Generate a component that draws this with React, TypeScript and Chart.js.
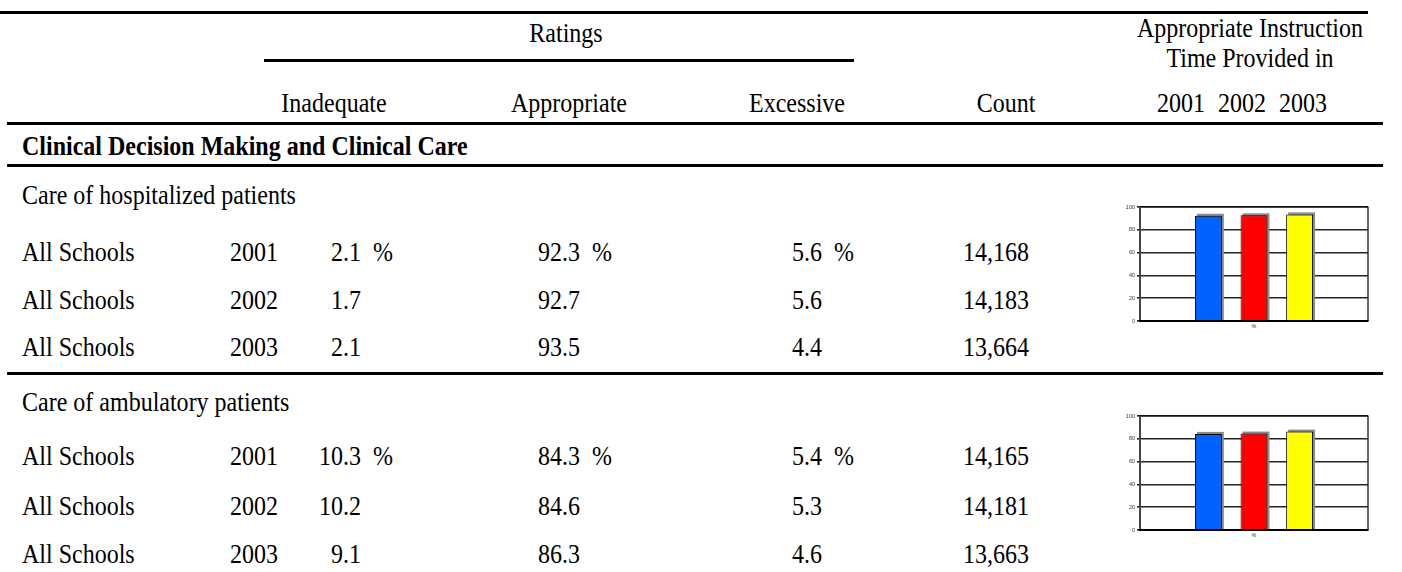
import React, { useEffect, useRef } from "react";
import { Chart, registerables } from "chart.js";

Chart.register(...registerables);

// ---------- data ----------
const years = ["2001", "2002", "2003"];
const schoolLabel = "All Schools";
const sectionTitle = "Clinical Decision Making and Clinical Care";
const groupNames = ["Care of hospitalized patients", "Care of ambulatory patients"];

const hospInadequate = [2.1, 1.7, 2.1];
const hospAppropriate = [92.3, 92.7, 93.5];
const hospExcessive = [5.6, 5.6, 4.4];
const hospCount = [14168, 14183, 13664];

const ambInadequate = [10.3, 10.2, 9.1];
const ambAppropriate = [84.3, 84.6, 86.3];
const ambExcessive = [5.4, 5.3, 4.6];
const ambCount = [14165, 14181, 13663];

const yTicks = [0, 20, 40, 60, 80, 100];
const xCategory = ["%"];
const barColors = ["#0063FF", "#FF0000", "#FFFF00"];

// ---------- layout ----------
const FONT = '"Liberation Serif", "Times New Roman", serif';
const FS = 27;
const SX = 0.889;

const COL = {
  school: 22,
  year: 230,
  inadequateR: 361,
  appropriateR: 580,
  excessiveR: 822,
  countR: 1029,
  pctGap: 12,
};

const HEAD = {
  ratingsX: 566,
  ratingsY: 33,
  inadequateX: 334,
  appropriateX: 569,
  excessiveX: 797,
  countX: 1006,
  rightX: 1250,
  labelsY: 103,
  instr1Y: 28,
  instr2Y: 58,
  yearLeft: [1157, 1218, 1279],
};

const GROUP_Y = [195, 402];
const ROW_Y = [
  [252, 300, 347],
  [456, 506, 554],
];
const CHART_TOP = [200, 409];

type TProps = {
  x: number;
  y: number;
  align?: "left" | "right" | "center";
  bold?: boolean;
  children: React.ReactNode;
};

function T({ x, y, align = "left", bold = false, children }: TProps) {
  const tx = align === "left" ? "0" : align === "right" ? "-100%" : "-50%";
  const origin = align === "left" ? "left center" : align === "right" ? "right center" : "center center";
  return (
    <div
      style={{
        position: "absolute",
        left: x,
        top: y,
        transform: `translate(${tx}, -50%) scaleX(${SX})`,
        transformOrigin: origin,
        whiteSpace: "nowrap",
        fontFamily: FONT,
        fontSize: FS,
        fontWeight: bold ? "bold" : "normal",
        lineHeight: 1,
        color: "#000",
      }}
    >
      {children}
    </div>
  );
}

function Line({ x1, x2, y, h = 3 }: { x1: number; x2: number; y: number; h?: number }) {
  return (
    <div
      style={{
        position: "absolute",
        left: x1,
        top: y - h / 2,
        width: x2 - x1,
        height: h,
        background: "#000",
      }}
    />
  );
}

const framePlugin = {
  id: "framePlugin",
  beforeDatasetsDraw(chart: any) {
    const ctx = chart.ctx;
    ctx.save();
    ctx.fillStyle = "#8a8a8a";
    chart.data.datasets.forEach((_: any, i: number) => {
      const meta = chart.getDatasetMeta(i);
      meta.data.forEach((el: any) => {
        const w = el.width;
        ctx.fillRect(el.x - w / 2 + 2, el.y - 2, w, el.base - el.y + 2);
      });
    });
    ctx.restore();
  },
  afterDatasetsDraw(chart: any) {
    const { ctx, chartArea: a } = chart;
    ctx.save();
    ctx.strokeStyle = "#000";
    ctx.lineWidth = 1.2;
    ctx.beginPath();
    ctx.moveTo(a.left, a.top);
    ctx.lineTo(a.right, a.top);
    ctx.lineTo(a.right, a.bottom);
    ctx.stroke();
    ctx.lineWidth = 2;
    ctx.strokeStyle = "#444";
    ctx.beginPath();
    ctx.moveTo(a.left, a.top);
    ctx.lineTo(a.left, a.bottom + 1);
    ctx.stroke();
    ctx.strokeStyle = "#000";
    ctx.beginPath();
    ctx.moveTo(a.left - 1, a.bottom);
    ctx.lineTo(a.right + 0.5, a.bottom);
    ctx.stroke();
    ctx.restore();
  },
};

function MiniChart({ values, top }: { values: number[]; top: number }) {
  const ref = useRef<HTMLCanvasElement | null>(null);
  useEffect(() => {
    if (!ref.current) return;
    const chart = new Chart(ref.current, {
      type: "bar",
      data: {
        labels: xCategory,
        datasets: years.map((yr, i) => ({
          label: yr,
          data: [values[i]],
          backgroundColor: barColors[i],
          borderColor: "#000",
          borderWidth: 1,
          categoryPercentage: 0.6,
          barPercentage: 0.59,
        })),
      },
      options: {
        animation: false,
        responsive: false,
        maintainAspectRatio: false,
        events: [],
        layout: { padding: { top: 7, right: 4, left: 0, bottom: 0 } },
        plugins: { legend: { display: false }, tooltip: { enabled: false } },
        scales: {
          x: {
            grid: { display: false, drawTicks: false },
            border: { display: false },
            ticks: {
              font: { size: 5.5, family: '"Liberation Sans", Arial, sans-serif' },
              color: "#333",
              padding: 2,
            },
            afterFit: (s: any) => {
              s.height = 15;
            },
          },
          y: {
            min: 0,
            max: 100,
            afterBuildTicks: (s: any) => {
              s.ticks = yTicks.map((v) => ({ value: v }));
            },
            ticks: {
              font: { size: 5.5, family: '"Liberation Sans", Arial, sans-serif' },
              color: "#333",
              padding: 2,
            },
            grid: { color: "#222", lineWidth: 1.6, tickLength: 3 },
            border: { display: false },
            afterFit: (s: any) => {
              s.width = 30;
            },
          },
        },
      },
      plugins: [framePlugin],
    });
    return () => chart.destroy();
  }, [values]);
  return (
    <canvas
      ref={ref}
      width={262}
      height={136}
      style={{ position: "absolute", left: 1110, top, width: 262, height: 136 }}
    />
  );
}

const fmt = (v: number) => v.toFixed(1);
const fmtCount = (v: number) => v.toLocaleString("en-US");

function Group({
  gi,
  inad,
  appr,
  exc,
  cnt,
}: {
  gi: number;
  inad: number[];
  appr: number[];
  exc: number[];
  cnt: number[];
}) {
  return (
    <>
      <T x={COL.school} y={GROUP_Y[gi]}>
        {groupNames[gi]}
      </T>
      {years.map((yr, r) => {
        const y = ROW_Y[gi][r];
        return (
          <React.Fragment key={yr}>
            <T x={COL.school} y={y}>
              {schoolLabel}
            </T>
            <T x={COL.year} y={y}>
              {yr}
            </T>
            <T x={COL.inadequateR} y={y} align="right">
              {fmt(inad[r])}
            </T>
            <T x={COL.appropriateR} y={y} align="right">
              {fmt(appr[r])}
            </T>
            <T x={COL.excessiveR} y={y} align="right">
              {fmt(exc[r])}
            </T>
            {r === 0 && (
              <>
                <T x={COL.inadequateR + COL.pctGap} y={y}>
                  %
                </T>
                <T x={COL.appropriateR + COL.pctGap} y={y}>
                  %
                </T>
                <T x={COL.excessiveR + COL.pctGap} y={y}>
                  %
                </T>
              </>
            )}
            <T x={COL.countR} y={y} align="right">
              {fmtCount(cnt[r])}
            </T>
          </React.Fragment>
        );
      })}
      <MiniChart values={appr} top={CHART_TOP[gi]} />
    </>
  );
}

export default function App() {
  return (
    <div
      style={{
        position: "absolute",
        left: 0,
        top: 0,
        width: 1402,
        height: 572,
        background: "#fff",
        overflow: "hidden",
      }}
    >
      <Line x1={0} x2={1368} y={12} />
      <T x={HEAD.ratingsX} y={HEAD.ratingsY} align="center">
        Ratings
      </T>
      <Line x1={264} x2={854} y={60} />
      <T x={HEAD.rightX} y={HEAD.instr1Y} align="center">
        Appropriate Instruction
      </T>
      <T x={HEAD.rightX} y={HEAD.instr2Y} align="center">
        Time Provided in
      </T>
      <T x={HEAD.inadequateX} y={HEAD.labelsY} align="center">
        Inadequate
      </T>
      <T x={HEAD.appropriateX} y={HEAD.labelsY} align="center">
        Appropriate
      </T>
      <T x={HEAD.excessiveX} y={HEAD.labelsY} align="center">
        Excessive
      </T>
      <T x={HEAD.countX} y={HEAD.labelsY} align="center">
        Count
      </T>
      {years.map((yr, i) => (
        <T key={yr} x={HEAD.yearLeft[i]} y={HEAD.labelsY}>
          {yr}
        </T>
      ))}
      <Line x1={7} x2={1383} y={123} />
      <T x={COL.school} y={146} bold>
        {sectionTitle}
      </T>
      <Line x1={7} x2={1383} y={165} />
      <Group gi={0} inad={hospInadequate} appr={hospAppropriate} exc={hospExcessive} cnt={hospCount} />
      <Line x1={7} x2={1383} y={373} />
      <Group gi={1} inad={ambInadequate} appr={ambAppropriate} exc={ambExcessive} cnt={ambCount} />
    </div>
  );
}
